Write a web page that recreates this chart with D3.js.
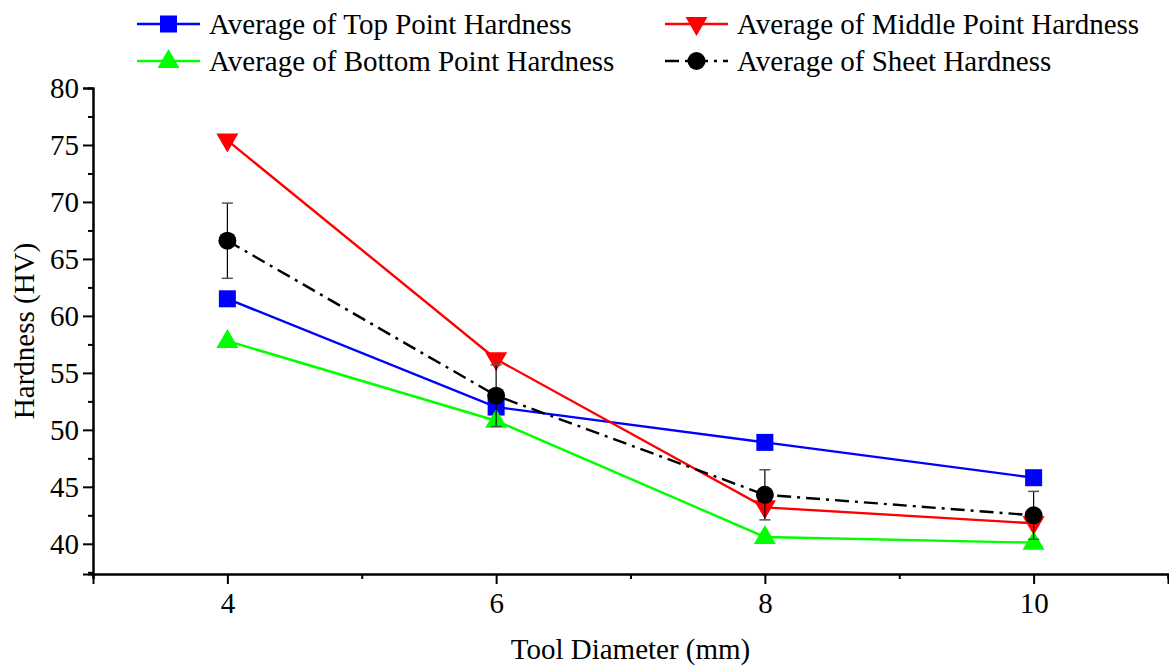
<!DOCTYPE html>
<html>
<head>
<meta charset="utf-8">
<script src="https://cdn.jsdelivr.net/npm/d3@7"></script>
<style>
  body { margin: 0; background: #fff; }
  text { font-family: "Liberation Serif", "Times New Roman", serif; }
</style>
</head>
<body>
<svg id="chart" width="1169" height="665"></svg>
<script>
const diameters = [4, 6, 8, 10];
const topHardness = [61.5, 52.0, 48.9, 45.8];
const middleHardness = [75.4, 56.2, 43.2, 41.8];
const bottomHardness = [57.8, 50.8, 40.6, 40.1];
const sheetHardness = [66.6, 53.0, 44.3, 42.5];
const sheetError = [3.3, 2.7, 2.2, 2.1];
const yTicks = [40, 45, 50, 55, 60, 65, 70, 75, 80];
const xTicks = [4, 6, 8, 10];

const width = 1169;
const height = 665;
const margin = {top: 88, right: 1, left: 93, bottom: 91};
const fontSize = 29;

const svg = d3.select("#chart");

const x = d3.scaleLinear().domain([3, 11]).range([margin.left, width - margin.right]);
const y = d3.scaleLinear().domain([37.35, 80]).range([height - margin.bottom, margin.top]);

// axes
const xAxis = d3.axisBottom(x).tickValues(xTicks).tickSize(10).tickPadding(8).tickFormat(d3.format("d"));
const xMinor = d3.axisBottom(x).tickValues([3, 5, 7, 9, 11]).tickSize(5).tickFormat("");
const yAxis = d3.axisLeft(y).tickValues(yTicks).tickSize(10).tickPadding(4);
const yMinor = d3.axisLeft(y).tickValues([37.5, 42.5, 47.5, 52.5, 57.5, 62.5, 67.5, 72.5, 77.5]).tickSize(5).tickFormat("");

function styleAxis(g) {
  g.attr("font-family", null);
  g.select(".domain").attr("stroke", "#000").attr("stroke-width", 2);
  g.selectAll(".tick line").attr("stroke", "#000").attr("stroke-width", 2);
  g.selectAll(".tick text").attr("font-size", fontSize).attr("fill", "#000");
}

svg.append("g").attr("transform", `translate(0,${height - margin.bottom})`).call(xMinor).call(styleAxis);
svg.append("g").attr("transform", `translate(0,${height - margin.bottom})`).call(xAxis).call(styleAxis);
svg.append("g").attr("transform", `translate(${margin.left},0)`).call(yMinor).call(styleAxis);
svg.append("g").attr("transform", `translate(${margin.left},0)`).call(yAxis).call(styleAxis);

svg.append("text")
  .attr("x", (margin.left + width - margin.right) / 2)
  .attr("y", 659)
  .attr("text-anchor", "middle")
  .attr("font-size", fontSize)
  .text("Tool Diameter (mm)");

svg.append("text")
  .attr("transform", `translate(34,${(margin.top + height - margin.bottom) / 2}) rotate(-90)`)
  .attr("text-anchor", "middle")
  .attr("font-size", fontSize)
  .text("Hardness (HV)");

const series = [
  {name: "Average of Top Point Hardness", values: topHardness, color: "#0000ff", marker: "square", dash: null},
  {name: "Average of Middle Point Hardness", values: middleHardness, color: "#ff0000", marker: "down", dash: null},
  {name: "Average of Bottom Point Hardness", values: bottomHardness, color: "#00ff00", marker: "up", dash: null},
  {name: "Average of Sheet Hardness", values: sheetHardness, color: "#000000", marker: "circle", dash: "14,6,3,6"}
];

function drawMarker(g, type, cx, cy, color) {
  if (type === "square") {
    g.append("rect").attr("x", cx - 8.5).attr("y", cy - 8.5).attr("width", 17).attr("height", 17).attr("fill", color);
  } else if (type === "circle") {
    g.append("circle").attr("cx", cx).attr("cy", cy).attr("r", 9).attr("fill", color);
  } else if (type === "up") {
    g.append("path").attr("d", `M${cx},${cy - 12}L${cx + 11},${cy + 7}L${cx - 11},${cy + 7}Z`).attr("fill", color);
  } else {
    g.append("path").attr("d", `M${cx},${cy + 12}L${cx + 11},${cy - 7}L${cx - 11},${cy - 7}Z`).attr("fill", color);
  }
}

const line = d3.line().x((d, i) => x(diameters[i])).y(d => y(d));

series.forEach(s => {
  const g = svg.append("g");
  g.append("path")
    .datum(s.values)
    .attr("d", line)
    .attr("fill", "none")
    .attr("stroke", s.color)
    .attr("stroke-width", 2.4)
    .attr("stroke-dasharray", s.dash);
  s.values.forEach((v, i) => drawMarker(g, s.marker, x(diameters[i]), y(v), s.color));
});

// error bars for sheet hardness
const eb = svg.append("g");
sheetHardness.forEach((v, i) => {
  const cx = x(diameters[i]);
  eb.append("line").attr("x1", cx).attr("x2", cx)
    .attr("y1", y(v + sheetError[i])).attr("y2", y(v - sheetError[i]))
    .attr("stroke", "#000").attr("stroke-width", 1.2);
  [v + sheetError[i], v - sheetError[i]].forEach(e => {
    eb.append("line").attr("x1", cx - 5.5).attr("x2", cx + 5.5)
      .attr("y1", y(e)).attr("y2", y(e))
      .attr("stroke", "#555").attr("stroke-width", 1.5);
  });
});

// legend
const legendPos = [
  {lx: 137, ly: 24},
  {lx: 665, ly: 24},
  {lx: 137, ly: 61},
  {lx: 665, ly: 61}
];
series.forEach((s, k) => {
  const p = legendPos[k];
  const g = svg.append("g");
  g.append("line").attr("x1", p.lx).attr("x2", p.lx + 63).attr("y1", p.ly).attr("y2", p.ly)
    .attr("stroke", s.color).attr("stroke-width", 2.4).attr("stroke-dasharray", s.dash);
  drawMarker(g, s.marker, p.lx + 31.5, p.ly, s.color);
  g.append("text").attr("x", p.lx + 72).attr("y", p.ly).attr("dy", "0.35em")
    .attr("font-size", fontSize).text(s.name);
});
</script>
</body>
</html>
